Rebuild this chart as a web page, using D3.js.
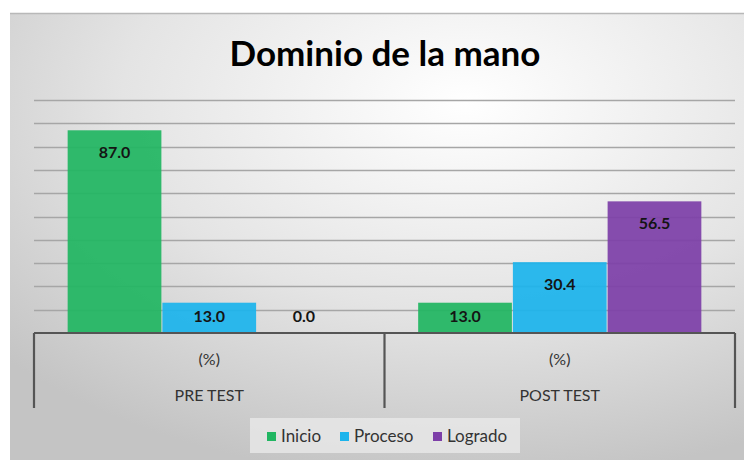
<!DOCTYPE html>
<html>
<head>
<meta charset="utf-8">
<script src="https://cdn.jsdelivr.net/npm/d3@7"></script>
<style>
  body{margin:0;background:#fff;}
  svg{display:block;font-family:Lato,"Open Sans",sans-serif;}
</style>
</head>
<body>
<svg id="chart" width="744" height="460"></svg>
<script>
// data
const groups = ["PRE TEST", "POST TEST"];
const subLabel = "(%)";
const series = ["Inicio", "Proceso", "Logrado"];
const colors = ["#21b662", "#1cb4ec", "#7d3fa8"];
const preTest = [87.0, 13.0, 0.0];
const postTest = [13.0, 30.4, 56.5];
const yTicks = [0, 10, 20, 30, 40, 50, 60, 70, 80, 90, 100];

const values = [preTest, postTest];

const svg = d3.select("#chart");
const W = 744, H = 460;

// background panel with radial shading
const defs = svg.append("defs");
const grad = defs.append("radialGradient").attr("id", "bg")
    .attr("cx", "0.62").attr("cy", "0.2").attr("r", "0.85");
grad.append("stop").attr("offset", "0").attr("stop-color", "#ffffff");
grad.append("stop").attr("offset", "0.55").attr("stop-color", "#e4e4e4");
grad.append("stop").attr("offset", "1").attr("stop-color", "#c4c4c4");

svg.append("rect").attr("x", 10).attr("y", 13).attr("width", W - 10).attr("height", H - 13)
    .attr("fill", "url(#bg)");
svg.append("line").attr("x1", 10).attr("x2", W).attr("y1", 13.5).attr("y2", 13.5)
    .attr("stroke", "#b8b8b8").attr("stroke-width", 1.5);

const plot = {left: 34, right: 735, top: 100, bottom: 333};

const y = d3.scaleLinear().domain([0, 100]).range([plot.bottom, plot.top]);
const x0 = d3.scaleBand().domain(groups).range([plot.left, plot.right]);
const x1 = d3.scaleBand().domain(series).range([0, x0.bandwidth()]).paddingOuter(0.35).paddingInner(0);

// gridlines
svg.append("g").selectAll("line").data(yTicks.slice(1)).join("line")
    .attr("x1", plot.left).attr("x2", plot.right)
    .attr("y1", d => Math.round(y(d)) + 0.5).attr("y2", d => Math.round(y(d)) + 0.5)
    .attr("stroke", "#a6a6a6").attr("stroke-width", 1.3);

// title
svg.append("text").attr("x", 385).attr("y", 66).attr("text-anchor", "middle")
    .attr("font-size", 35).attr("font-weight", "bold").attr("fill", "#000")
    .text("Dominio de la mano");

// bars
const g = svg.append("g").selectAll("g").data(groups).join("g")
    .attr("transform", d => `translate(${x0(d)},0)`);

g.selectAll("rect").data((d, i) => values[i].map((v, j) => ({s: series[j], v, c: colors[j]})))
    .join("rect")
    .attr("x", d => x1(d.s) + 0.5)
    .attr("width", x1.bandwidth() - 1)
    .attr("y", d => y(d.v))
    .attr("height", d => y(0) - y(d.v))
    .attr("fill", d => d.c).attr("fill-opacity", 0.93);

g.selectAll("text.val").data((d, i) => values[i].map((v, j) => ({s: series[j], v})))
    .join("text").attr("class", "val")
    .attr("x", d => x1(d.s) + x1.bandwidth() / 2)
    .attr("y", d => Math.min(y(d.v) + 22, y(0) - 17))
    .attr("dy", "0.35em").attr("text-anchor", "middle")
    .attr("font-size", 16).attr("font-weight", "bold").attr("fill", "#141414")
    .text(d => d3.format(".1f")(d.v));

// category axis
const axis = svg.append("g").attr("stroke", "#555").attr("stroke-width", 2.2).attr("fill", "none");
axis.append("line").attr("x1", plot.left).attr("x2", plot.right).attr("y1", plot.bottom).attr("y2", plot.bottom);
[plot.left, x0(groups[1]), plot.right].forEach(px => {
    axis.append("line").attr("x1", px).attr("x2", px).attr("y1", plot.bottom).attr("y2", 408);
});

svg.append("g").selectAll("text").data(groups).join("text")
    .attr("x", d => x0(d) + x0.bandwidth() / 2).attr("y", 365)
    .attr("text-anchor", "middle").attr("font-size", 16).attr("fill", "#333")
    .text(subLabel);
svg.append("g").selectAll("text").data(groups).join("text")
    .attr("x", d => x0(d) + x0.bandwidth() / 2).attr("y", 401)
    .attr("text-anchor", "middle").attr("font-size", 16).attr("fill", "#333")
    .text(d => d);

// legend
const leg = svg.append("g");
leg.append("rect").attr("x", 250).attr("y", 418).attr("width", 270).attr("height", 35)
    .attr("fill", "#e8e8e8").attr("fill-opacity", 0.8);
const legX = [267, 340, 433];
const li = leg.selectAll("g").data(series).join("g")
    .attr("transform", (d, i) => `translate(${legX[i]},436)`);
li.append("rect").attr("x", 0).attr("y", -4).attr("width", 9).attr("height", 9)
    .attr("fill", (d, i) => colors[i]);
li.append("text").attr("x", 14).attr("dy", "0.35em").attr("font-size", 17).attr("fill", "#333")
    .text(d => d);
</script>
</body>
</html>
